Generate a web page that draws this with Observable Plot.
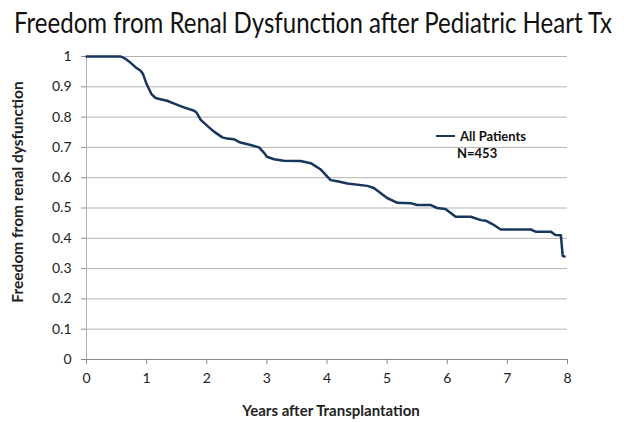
<!DOCTYPE html>
<html>
<head>
<meta charset="utf-8">
<script src="https://cdn.jsdelivr.net/npm/d3@7"></script>
<script src="https://cdn.jsdelivr.net/npm/@observablehq/plot@0.6"></script>
<style>
  html, body { margin: 0; padding: 0; background: #fff; }
  #wrap { position: relative; width: 624px; height: 422px; font-family: Lato, sans-serif; overflow: hidden; }
  #title { height: 40px; padding-top: 8px; box-sizing: border-box; padding-left: 14px; color: #111; white-space: nowrap; }
  #titleText { display: inline-block; font-size: 28px; line-height: 1; transform-origin: 0 0; }
  #legend { position: absolute; left: 436px; top: 127px; font-size: 13px; font-weight: bold; color: #111; }
  #legend .row { display: flex; align-items: center; height: 17px; }
  #legend .swatch { width: 19px; height: 0; border-top: 2.5px solid #17365d; margin-right: 5px; }
</style>
</head>
<body>
<div id="wrap">
  <div id="title"><span id="titleText"></span></div>
  <div id="chart"></div>
  <div id="legend">
    <div class="row"><span class="swatch"></span><span id="seriesName"></span></div>
    <div class="row" style="padding-left:21px"><span id="seriesN"></span></div>
  </div>
</div>
<script>
const titleText = "Freedom from Renal Dysfunction after Pediatric Heart Tx";
const xLabel = "Years after Transplantation";
const yLabel = "Freedom from renal dysfunction";
const seriesName = "All Patients";
const seriesN = "N=453";
const xTicks = [0, 1, 2, 3, 4, 5, 6, 7, 8];
const yTicks = [0, 0.1, 0.2, 0.3, 0.4, 0.5, 0.6, 0.7, 0.8, 0.9, 1];
const years = [0, 0.57, 0.65, 0.73, 0.82, 0.9, 0.94, 1.0, 1.08, 1.15, 1.23, 1.34, 1.48, 1.62, 1.79, 1.83, 1.90, 2.01, 2.12, 2.26, 2.34, 2.45, 2.56, 2.73, 2.87, 2.95, 3.0, 3.12, 3.28, 3.56, 3.73, 3.89, 4.06, 4.17, 4.34, 4.67, 4.78, 5.0, 5.17, 5.39, 5.50, 5.72, 5.83, 5.97, 6.14, 6.39, 6.56, 6.64, 6.75, 6.89, 7.39, 7.47, 7.72, 7.80, 7.89, 7.92, 7.95];
const freedom = [1, 1, 0.992, 0.98, 0.964, 0.953, 0.942, 0.909, 0.876, 0.863, 0.859, 0.854, 0.843, 0.832, 0.821, 0.815, 0.791, 0.771, 0.752, 0.733, 0.729, 0.727, 0.716, 0.708, 0.70, 0.683, 0.669, 0.661, 0.656, 0.655, 0.648, 0.628, 0.592, 0.588, 0.581, 0.573, 0.566, 0.533, 0.517, 0.516, 0.510, 0.51, 0.50, 0.497, 0.471, 0.471, 0.460, 0.458, 0.447, 0.429, 0.429, 0.422, 0.422, 0.411, 0.410, 0.342, 0.340];

const tt = document.getElementById("titleText");
tt.textContent = titleText;
const w = tt.getBoundingClientRect().width;
if (w > 0) tt.style.transform = `scaleX(${598 / w})`;
document.getElementById("seriesName").textContent = seriesName;
document.getElementById("seriesN").textContent = seriesN;

const data = years.map((t, i) => ({t, v: freedom[i]}));

const chart = Plot.plot({
  width: 624,
  height: 382,
  marginLeft: 86,
  marginRight: 57,
  marginTop: 16,
  marginBottom: 63,
  style: {fontFamily: "Lato, sans-serif", fontSize: "14px", color: "#222", background: "#fff"},
  x: {domain: [0, 8]},
  y: {domain: [0, 1]},
  marks: [
    Plot.gridY(yTicks.filter(d => d > 0), {stroke: "#b4b4b4", strokeOpacity: 1, strokeWidth: 1}),
    Plot.ruleY([0], {stroke: "#8a8a8a"}),
    Plot.ruleX([0], {stroke: "#b4b4b4"}),
    Plot.axisX({ticks: xTicks, tickSize: 5, tickPadding: 9, stroke: "#8a8a8a", strokeOpacity: 1,
      label: null, tickFormat: d => String(d)}),
    Plot.axisY({ticks: yTicks, tickSize: 5, tickPadding: 10, stroke: "#8a8a8a", strokeOpacity: 1,
      label: null, tickFormat: d => String(+d.toFixed(1))}),
    Plot.text([xLabel], {frameAnchor: "bottom", dx: 4, dy: 52, text: d => d,
      fontSize: 15, fontWeight: "bold", textAnchor: "middle", lineAnchor: "middle", fill: "#222"}),
    Plot.text([yLabel], {frameAnchor: "left", rotate: -90, dx: -68, dy: -16, text: d => d,
      fontSize: 15.5, fontWeight: "bold", textAnchor: "middle", lineAnchor: "middle", fill: "#222"}),
    Plot.line(data, {x: "t", y: "v", stroke: "#17365d", strokeWidth: 2.5, strokeLinejoin: "round"})
  ]
});
document.getElementById("chart").appendChild(chart);
</script>
</body>
</html>
